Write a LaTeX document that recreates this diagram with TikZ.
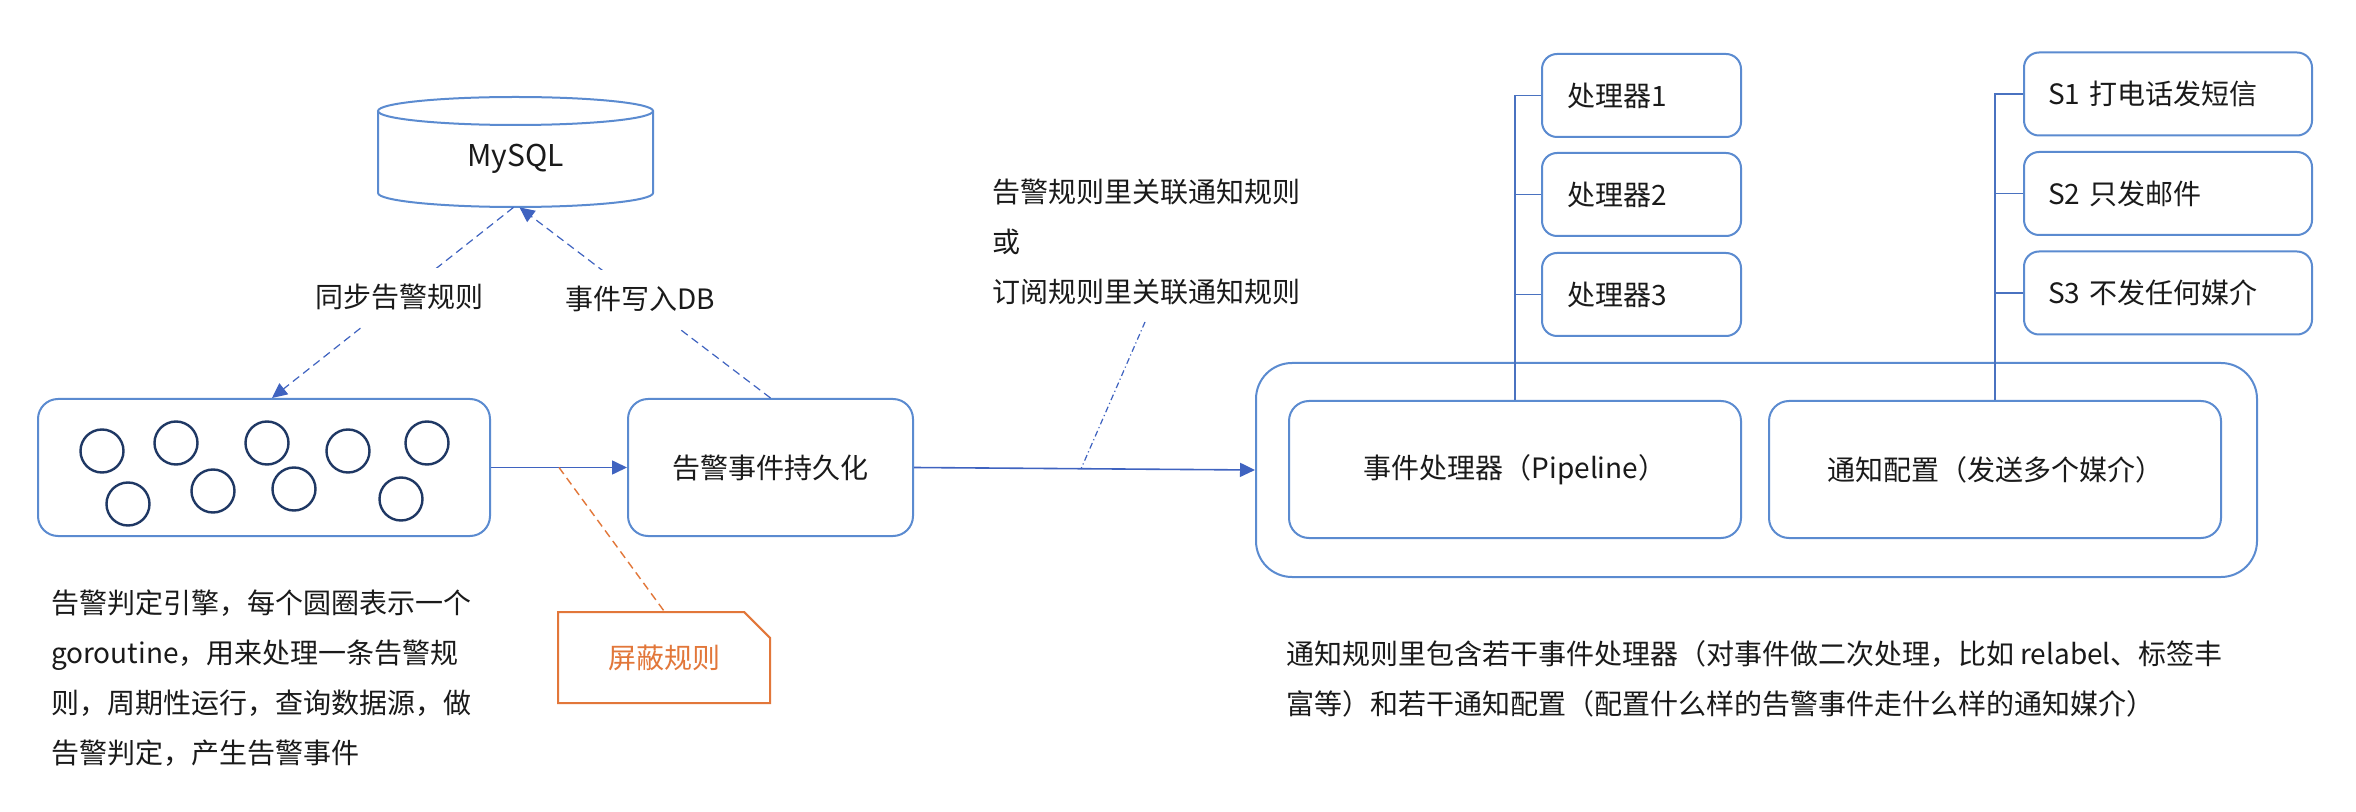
\documentclass[tikz,border=0pt]{standalone}
\usepackage{fontspec}
\setmainfont{Noto Sans CJK SC}
\usetikzlibrary{arrows.meta,shapes.misc,calc}
\definecolor{boxblue}{HTML}{5B8BD0}
\definecolor{linkblue}{HTML}{3F63C0}
\definecolor{treeblue}{HTML}{4A72C0}
\definecolor{ringnavy}{HTML}{1F3864}
\definecolor{maskorange}{HTML}{E2773A}
\definecolor{ink}{HTML}{1A1A1A}
\begin{document}
\begin{tikzpicture}[x=0.5pt,y=-0.5pt,
  font=\fontsize{14pt}{25pt}\selectfont, text=ink,
  box/.style={draw=boxblue, line width=1pt, rounded corners=10pt, fill=white,
    minimum width=226pt, minimum height=68.5pt, inner sep=0pt, align=center},
  procbox/.style={draw=boxblue, line width=1pt, rounded corners=7.5pt, fill=white,
    minimum height=41.5pt, inner ysep=0pt, inner xsep=12.5pt, text width=74.5pt, align=left},
  mediabox/.style={draw=boxblue, line width=1pt, rounded corners=7.5pt, fill=white,
    minimum height=41.5pt, inner ysep=0pt, inner xsep=12pt, text width=120pt, align=left},
  ring/.style={circle, draw=ringnavy, line width=1.2pt, minimum size=21.5pt, inner sep=0pt},
  flow/.style={draw=linkblue, line width=0.8pt, -{Triangle[length=7.5pt,width=7pt]}},
  dashflow/.style={draw=linkblue, line width=0.6pt, dash pattern=on 4pt off 2.5pt,
    -{Triangle[length=7.5pt,width=7pt]}},
  tree/.style={draw=treeblue, line width=0.7pt},
  cyl/.style={draw=boxblue, line width=1pt},
  lbl/.style={fill=white, inner xsep=2pt, inner ysep=8pt},
  maskline/.style={draw=maskorange, line width=0.7pt, dash pattern=on 4pt off 2.5pt},
  dashdotline/.style={draw=linkblue, line width=0.6pt, dash pattern=on 3pt off 1.5pt on 0.6pt off 1.5pt}
]
% canvas
\fill[white] (0,0) rectangle (2356,812);
\useasboundingbox (0,0) rectangle (2356,812);

% database cylinder
\draw[cyl] (378,111) -- (378,193) arc[start angle=180, end angle=360, x radius=68.75pt, y radius=7pt] -- (653,111);
\draw[cyl] (515.5,111) ellipse [x radius=68.75pt, y radius=7pt];
\node[minimum width=137.5pt, minimum height=48pt, inner sep=0pt, font=\fontsize{15pt}{18pt}\selectfont] (db) at (515.5,159) {MySQL};

% rule engine with goroutines
\node[box] (eng) at (264,467.5) {};
\node[ring] (c1) at (102,451) {};
\node[ring] (c2) at (176,443) {};
\node[ring] (c3) at (267,443) {};
\node[ring] (c4) at (348,451) {};
\node[ring] (c5) at (427,443) {};
\node[ring] (c6) at (128,504) {};
\node[ring] (c7) at (213,491) {};
\node[ring] (c8) at (294,489) {};
\node[ring] (c9) at (401,499) {};

% event persistence
\node[box, minimum width=142.5pt] (persist) at (770.5,467.5) {告警事件持久化};

% mute rules
\node[chamfered rectangle, chamfered rectangle corners=north east, chamfered rectangle sep=6.5pt,
  draw=maskorange, line width=1pt, minimum width=106pt, minimum height=45.5pt, inner sep=0pt,
  text=maskorange] (mask) at (664,657.5) {屏蔽规则};

% notification rule
\node[draw=boxblue, line width=1pt, rounded corners=18pt, minimum width=500.5pt, minimum height=107pt] (big) at (1756.5,470) {};
\node[box] (pipe) at (1515,469.5) {事件处理器（Pipeline）};
\node[box] (notify) at (1995,469.5) {通知配置（发送多个媒介）};

% processors
\node[procbox] (p1) at (1641.5,95.5) {处理器1};
\node[procbox] (p2) at (1641.5,194.5) {处理器2};
\node[procbox] (p3) at (1641.5,294.5) {处理器3};

% media settings
\node[mediabox] (s1) at (2168,94) {S1 打电话发短信};
\node[mediabox] (s2) at (2168,193.5) {S2 只发邮件};
\node[mediabox] (s3) at (2168,293) {S3 不发任何媒介};

% trees
\draw[tree] (pipe.north) -- (pipe.north |- p1.west) -- (p1.west);
\draw[tree] (pipe.north |- p2.west) -- (p2.west);
\draw[tree] (pipe.north |- p3.west) -- (p3.west);
\draw[tree] (notify.north) -- (notify.north |- s1.west) -- (s1.west);
\draw[tree] (notify.north |- s2.west) -- (s2.west);
\draw[tree] (notify.north |- s3.west) -- (s3.west);

% main flow
\draw[flow] (eng) -- (persist);
\draw[flow] (persist.east) -- (big.west);

% database links
\draw[dashflow] ([xshift=-1pt]db.south) -- node[lbl, pos=0.47] {同步告警规则} ([xshift=4pt]eng.north);
\draw[dashflow] (persist.north) -- node[lbl, pos=0.52] {事件写入DB} ([xshift=2pt]db.south);

% mute rule hook
\coordinate (mutehook) at ($(eng.east)!0.5!(persist.west)$);
\draw[maskline] (mutehook) -- (mask.north);

% association note
\node[anchor=west, align=left] (rel) at (985,242) {告警规则里关联通知规则\\或\\订阅规则里关联通知规则};
\coordinate (relfoot) at (1145,322);
\coordinate (relhook) at ($(persist.east)!0.49!(big.west)$);
\draw[dashdotline] (relfoot) -- (relhook);

% descriptions
\node[anchor=west, align=left] (desc) at (44,678.5) {告警判定引擎，每个圆圈表示一个\\goroutine，用来处理一条告警规\\则，周期性运行，查询数据源，做\\告警判定，产生告警事件};
\node[anchor=west, align=left] (note) at (1279,679) {通知规则里包含若干事件处理器（对事件做二次处理，比如 relabel、标签丰\\富等）和若干通知配置（配置什么样的告警事件走什么样的通知媒介）};
\end{tikzpicture}
\end{document}
